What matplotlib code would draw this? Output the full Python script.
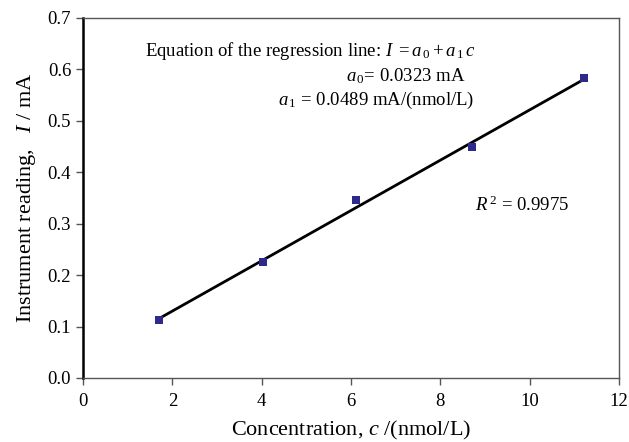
import numpy as np
import matplotlib
matplotlib.use("Agg")
import matplotlib.pyplot as plt

plt.rcParams['font.family'] = ['Liberation Serif', 'DejaVu Serif']
plt.rcParams['mathtext.fontset'] = 'custom'
plt.rcParams['mathtext.rm'] = 'Liberation Serif'
plt.rcParams['mathtext.it'] = 'Liberation Serif:italic'

conc = [1.70, 4.03, 6.12, 8.71, 11.22]
reading = [0.113, 0.226, 0.347, 0.449, 0.584]
a0 = 0.0323
a1 = 0.0489
r2 = 0.9975

fig = plt.figure(figsize=(6.29, 4.42), dpi=100)
ax = fig.add_axes([83 / 629, 64 / 442, 536 / 629, 360 / 442])

x = np.array([conc[0], conc[-1]])
ax.plot(x, a0 + a1 * x, color='black', lw=2, zorder=2)
ax.scatter(conc, reading, marker='s', s=30, color='#2e2a8c', zorder=3, linewidths=0)

ax.set_xlim(0, 12)
ax.set_ylim(0, 0.7)
ax.set_xticks(range(0, 13, 2))
ax.set_yticks(np.arange(0, 0.71, 0.1))
ax.set_yticklabels([f'{v:.1f}' for v in np.arange(0, 0.71, 0.1)])
ax.tick_params(direction='out', length=5, labelsize=13.5, width=1, colors='#555555', labelcolor='black')
ax.tick_params(axis='x', pad=6)

ax.spines['left'].set_linewidth(1.8)
ax.spines['left'].set_color('black')
for s in ['top', 'right', 'bottom']:
    ax.spines[s].set_linewidth(1.0)
    ax.spines[s].set_color('#555555')

ax.set_xlabel(r'Concentration, $c$ /(nmol/L)', fontsize=16, labelpad=6)
ax.set_ylabel(r'Instrument reading,   $I$ / mA', fontsize=16, labelpad=7)

ax.text(0.733, 0.908, r'Equation of the regression line: $I\ =a_{\,0}+a_{\,1}\,c$',
        transform=ax.transAxes, ha='right', va='center', fontsize=13.5)
ax.text(0.713, 0.839, rf'$a_{{\,0}}$= {a0} mA',
        transform=ax.transAxes, ha='right', va='center', fontsize=13.5)
ax.text(0.731, 0.772, rf'$a_{{\,1}}$ = {a1} mA/(nmol/L)',
        transform=ax.transAxes, ha='right', va='center', fontsize=13.5)
ax.text(0.731, 0.48, rf'$R^{{\,2}}$ = {r2}',
        transform=ax.transAxes, ha='left', va='center', fontsize=13.5)

fig.savefig('out.png', dpi=100)
